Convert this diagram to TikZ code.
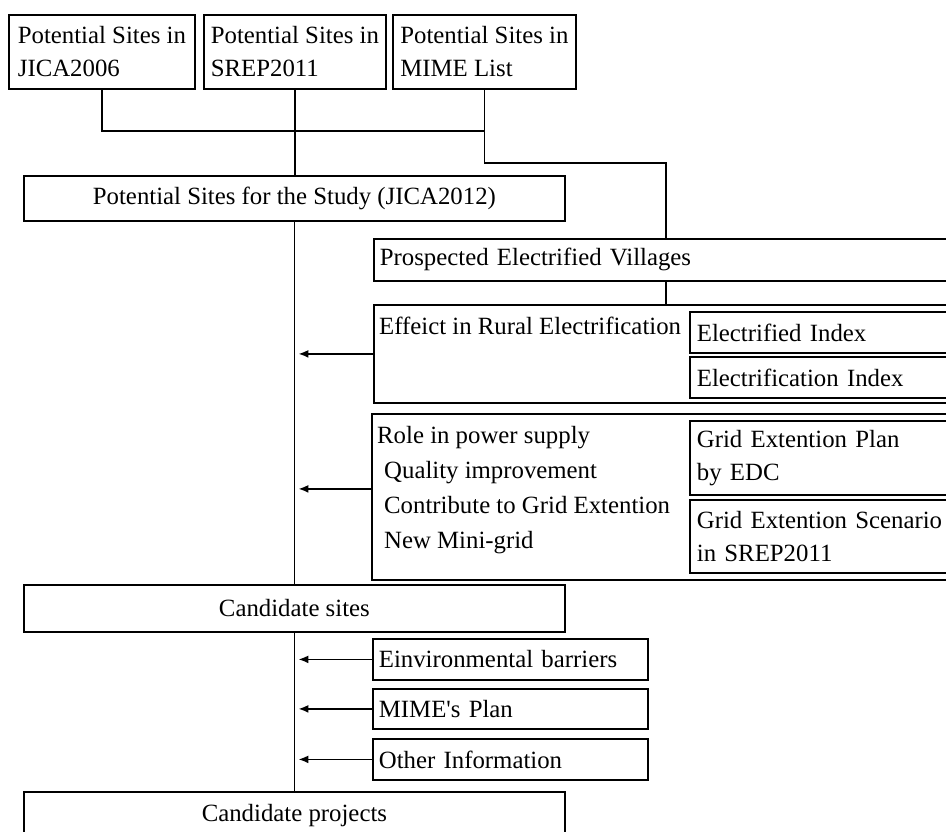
\documentclass[tikz,border=0pt]{standalone}
\usepackage{fontspec}
\setmainfont{Liberation Serif}
\usepackage{tikz}
\usetikzlibrary{arrows.meta}

\tikzset{
  box/.style={draw, line width=1.8pt, anchor=north west, inner xsep=6pt, inner ysep=0pt,
    font=\fontsize{24.8}{33}\selectfont},
  lbox/.style={box, align=left},
  txt/.style={inner sep=0pt, align=left, font=\fontsize{24.8}{35}\selectfont},
  line/.style={line width=1.8pt},
  arr/.style={line, -{Latex[length=10pt,width=8pt]}, shorten >=4pt}
}

\begin{document}
\begin{tikzpicture}[x=1pt, y=-1pt]
  \path[use as bounding box, clip] (0,0) rectangle (946,831);

  % sources
  \node[lbox, minimum width=186pt, minimum height=74pt] (jica06) at (8,14) {Potential Sites in\\JICA2006\hfill};
  \node[lbox, minimum width=182pt, minimum height=74pt] (srep) at (203,14) {Potential Sites in\\SREP2011\hfill};
  \node[lbox, minimum width=183pt, minimum height=74pt] (mime) at (392,14) {Potential Sites in\\MIME List\hfill};

  \node[box, minimum width=541pt, minimum height=45pt] (study) at (23,175) {Potential Sites for the Study (JICA2012)};

  % evaluation on the right
  \node[lbox, text width=608pt, minimum height=42pt] (prosp) at (373,238) {Prospected Electrified Villages};
  \node[box, minimum width=620pt, minimum height=98pt] (effect) at (373,304) {};
  \node[txt, anchor=base west] (effecttxt) at (379,334) {Effeict in Rural Electrification};
  \node[lbox, inner xsep=7pt, text width=290pt, minimum height=41pt] (elecd) at (689,311) {Electrified Index};
  \node[lbox, inner xsep=7pt, text width=290pt, minimum height=41pt] (elecn) at (689,356) {Electrification Index};

  \node[box, minimum width=620pt, minimum height=166pt] (role) at (371,413) {};
  \node[txt, anchor=north west] (roletxt) at (377,426) {Role in power supply\\
    \hspace*{7pt}Quality improvement\\
    \hspace*{7pt}Contribute to Grid Extention\\
    \hspace*{7pt}New Mini-grid};
  \node[lbox, inner xsep=7pt, text width=290pt, minimum height=74pt] (gplan) at (689,420) {Grid Extention Plan\\by EDC};
  \node[lbox, inner xsep=7pt, text width=290pt, minimum height=73pt] (gscen) at (689,499) {Grid Extention Scenario\\in SREP2011};

  \node[box, minimum width=541pt, minimum height=47pt] (cands) at (23,584) {Candidate sites};

  \node[lbox, text width=263pt, minimum height=41pt] (env) at (372,638) {Einvironmental barriers};
  \node[lbox, text width=263pt, minimum height=40pt] (mimep) at (372,688) {MIME\textquotesingle s Plan};
  \node[lbox, text width=263pt, minimum height=41pt] (other) at (372,738) {Other Information};

  \node[box, minimum width=541pt, minimum height=47pt] (proj) at (23,791) {Candidate projects};

  % connectors
  \coordinate (join) at (294,131);
  \coordinate (bend) at (666,163);
  \draw[line] (jica06.south) |- (join) -| (mime.south);
  \draw[line] (srep.south) -- (srep.south |- study.north);
  \draw[line] (mime.south) |- (bend) -- (bend |- prosp.north);
  \draw[line] (bend |- prosp.south) -- (bend |- effect.north);
  \draw[line] (study.south) -- (cands.north);
  \draw[line] (cands.south) -- (proj.north);

  \draw[arr] (effect.west) -- (effect.west -| study.south);
  \draw[arr] ([yshift=8pt]role.west) -- ([yshift=8pt]role.west -| study.south);
  \draw[arr] (env.west) -- (env.west -| cands.south);
  \draw[arr] (mimep.west) -- (mimep.west -| cands.south);
  \draw[arr] (other.west) -- (other.west -| cands.south);
\end{tikzpicture}
\end{document}
